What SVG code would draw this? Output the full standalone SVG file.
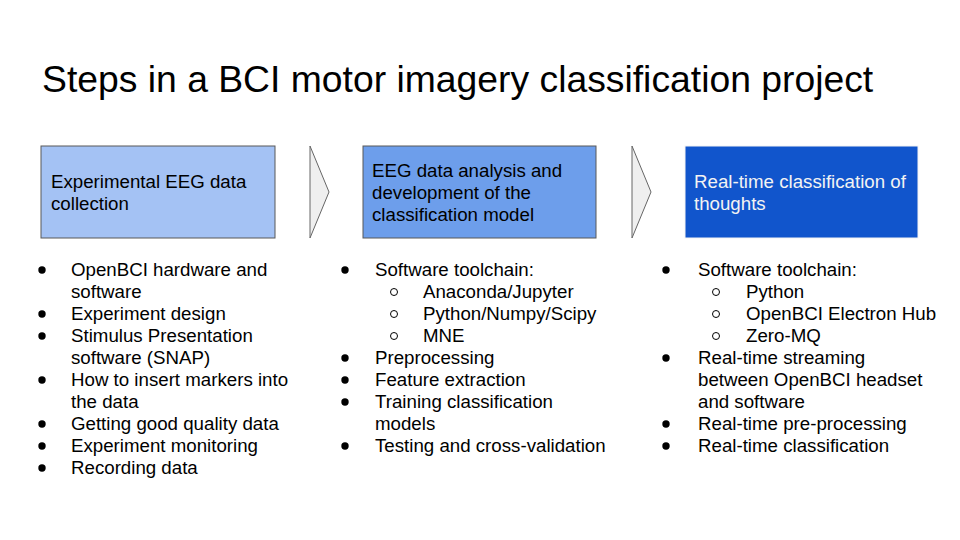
<svg xmlns="http://www.w3.org/2000/svg" width="960" height="540" viewBox="0 0 960 540">
  <style>
    text { font-family: "Liberation Sans", Arial, sans-serif; fill: #000000; }
    .title { font-size: 37.3px; }
    .t { font-size: 18.7px; }
    .light { fill: #f3f3f3; }
    .dot { fill: #000000; }
    .ring { fill: none; stroke: #000000; stroke-width: 1; }
    .chev { fill: #efefef; stroke: #666666; stroke-width: 1; }
  </style>
  <rect width="960" height="540" fill="#ffffff"/>

  <text class="title" x="42" y="92">Steps in a BCI motor imagery classification project</text>

  <g id="step1">
    <rect x="41" y="146" width="234" height="92" fill="#a4c2f4" stroke="#595959" stroke-width="1"/>
    <text class="t" x="51" y="188">Experimental EEG data</text>
    <text class="t" x="51" y="210">collection</text>
  </g>

  <g id="step2">
    <rect x="363" y="146" width="233" height="92" fill="#6d9eeb" stroke="#595959" stroke-width="1"/>
    <text class="t" x="372" y="177">EEG data analysis and</text>
    <text class="t" x="372" y="199">development of the</text>
    <text class="t" x="372" y="221">classification model</text>
  </g>

  <g id="step3">
    <rect x="685" y="146" width="233" height="92" fill="#1155cc" stroke="#f3f3f3" stroke-width="1"/>
    <text class="t light" x="694" y="188">Real-time classification of</text>
    <text class="t light" x="694" y="210">thoughts</text>
  </g>

  <g id="connectors">
    <polygon class="chev" points="310,146 329,192 310,238"/>
    <polygon class="chev" points="632,146 651,192 632,238"/>
  </g>

  <g id="list1">
    <circle class="dot" cx="42" cy="270" r="3.7"/>
    <text class="t" x="71" y="276">OpenBCI hardware and</text>
    <text class="t" x="71" y="298">software</text>
    <circle class="dot" cx="42" cy="314" r="3.7"/>
    <text class="t" x="71" y="320">Experiment design</text>
    <circle class="dot" cx="42" cy="336" r="3.7"/>
    <text class="t" x="71" y="342">Stimulus Presentation</text>
    <text class="t" x="71" y="364">software (SNAP)</text>
    <circle class="dot" cx="42" cy="380" r="3.7"/>
    <text class="t" x="71" y="386">How to insert markers into</text>
    <text class="t" x="71" y="408">the data</text>
    <circle class="dot" cx="42" cy="424" r="3.7"/>
    <text class="t" x="71" y="430">Getting good quality data</text>
    <circle class="dot" cx="42" cy="446" r="3.7"/>
    <text class="t" x="71" y="452">Experiment monitoring</text>
    <circle class="dot" cx="42" cy="468" r="3.7"/>
    <text class="t" x="71" y="474">Recording data</text>
  </g>

  <g id="list2">
    <circle class="dot" cx="345" cy="270" r="3.7"/>
    <text class="t" x="375" y="276">Software toolchain:</text>
    <circle class="ring" cx="394" cy="292" r="3.5"/>
    <text class="t" x="423" y="298">Anaconda/Jupyter</text>
    <circle class="ring" cx="394" cy="314" r="3.5"/>
    <text class="t" x="423" y="320">Python/Numpy/Scipy</text>
    <circle class="ring" cx="394" cy="336" r="3.5"/>
    <text class="t" x="423" y="342">MNE</text>
    <circle class="dot" cx="345" cy="358" r="3.7"/>
    <text class="t" x="375" y="364">Preprocessing</text>
    <circle class="dot" cx="345" cy="380" r="3.7"/>
    <text class="t" x="375" y="386">Feature extraction</text>
    <circle class="dot" cx="345" cy="402" r="3.7"/>
    <text class="t" x="375" y="408">Training classification</text>
    <text class="t" x="375" y="430">models</text>
    <circle class="dot" cx="345" cy="446" r="3.7"/>
    <text class="t" x="375" y="452">Testing and cross-validation</text>
  </g>

  <g id="list3">
    <circle class="dot" cx="666" cy="270" r="3.7"/>
    <text class="t" x="698" y="276">Software toolchain:</text>
    <circle class="ring" cx="716" cy="292" r="3.5"/>
    <text class="t" x="746" y="298">Python</text>
    <circle class="ring" cx="716" cy="314" r="3.5"/>
    <text class="t" x="746" y="320">OpenBCI Electron Hub</text>
    <circle class="ring" cx="716" cy="336" r="3.5"/>
    <text class="t" x="746" y="342">Zero-MQ</text>
    <circle class="dot" cx="666" cy="358" r="3.7"/>
    <text class="t" x="698" y="364">Real-time streaming</text>
    <text class="t" x="698" y="386">between OpenBCI headset</text>
    <text class="t" x="698" y="408">and software</text>
    <circle class="dot" cx="666" cy="424" r="3.7"/>
    <text class="t" x="698" y="430">Real-time pre-processing</text>
    <circle class="dot" cx="666" cy="446" r="3.7"/>
    <text class="t" x="698" y="452">Real-time classification</text>
  </g>
</svg>
